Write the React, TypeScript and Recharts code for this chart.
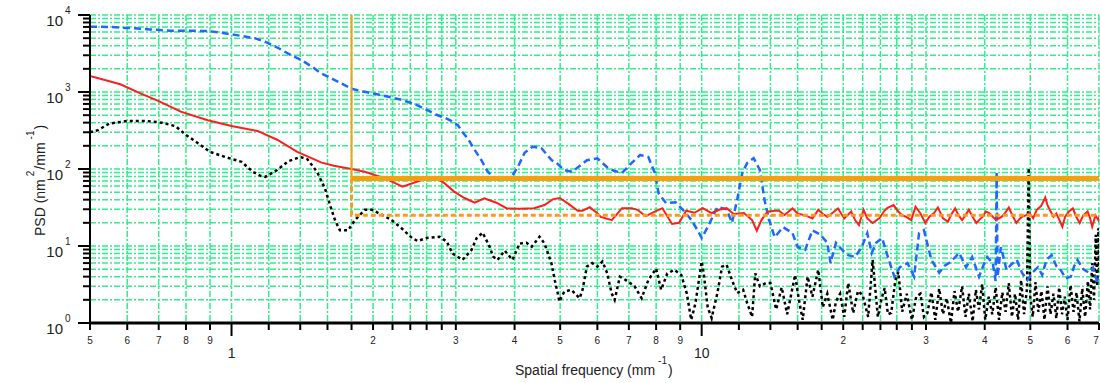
import React from 'react';
import { LineChart, Line, XAxis, YAxis, CartesianGrid } from 'recharts';

// ---------- data ----------
const blueFreq = [0.5,0.55,0.6,0.67,0.74,0.8,0.89,0.95,1.0,1.06,1.12,1.19,1.26,1.32,1.41,1.48,1.55,1.65,1.74,1.8,1.9,2.04,2.17,2.3,2.41,2.5,2.61,2.72,2.85,2.94,3.03,3.1,3.18,3.29,3.4,3.49,3.58,3.68,3.8,3.94,4.06,4.2,4.37,4.56,4.7,4.8,4.91,5.1,5.3,5.45,5.7,6.0,6.15,6.3,6.5,6.77,7.1,7.4,7.7,7.95,8.1,8.4,8.8,9.1,9.5,9.8,10.0,10.3,10.8,11.3,11.6,11.9,12.2,12.5,12.9,13.3,13.6,13.9,14.3,14.9,15.6,16.0,16.6,17.2,17.9,18.5,18.8,19.3,19.9,20.5,21.2,21.9,22.5,23.0,23.5,24.2,25.0,25.7,26.4,27.4,28.3,29.0,29.7,30.8,31.5,32,32.8,33.6,34.5,35.3,36.5,37.6,38.9,39.7,40.5,41.6,42.2,42.4,42.6,43.3,44.5,45.6,46.8,48,49.3,50.5,51.9,53,54.1,55.5,56.8,58,59.5,61,62,63,64.8,66.6,68,69.5,70];
const blueVals = [7050,7000,6800,6500,6260,6250,6200,5900,5600,5300,5000,4380,3700,3150,2580,2150,1750,1450,1230,1100,1020,935,860,790,720,660,580,510,460,420,370,300,250,177,130,97,80,72,74,79,105,162,195,187,150,130,120,97,92,105,130,138,120,105,95,89,120,152,143,89,48,36,37,30,22,16,12.7,17.6,32,30,20,40,89,120,138,97,40,22,13,17.6,14.7,9.7,8.9,16,14,11,6,11,8.9,7.6,7.2,9.7,14.7,8.1,11,12.7,6.6,4.0,5.3,6,4,14.7,16,6.6,5.3,4.5,5.5,6,7,8.1,5.3,7.2,4,5.5,7.2,6,3.5,89,4,9.7,4.9,5.8,6.6,4.5,3.6,4.5,5.3,4.2,6.6,7.6,5.5,4.9,3.8,4,5.5,6.6,5,4.5,5.2,3.3,3.8];

const redFreq = [0.5,0.58,0.64,0.7,0.78,0.89,1.0,1.14,1.16,1.25,1.38,1.55,1.65,1.8,1.92,2.12,2.31,2.54,2.7,2.84,2.98,3.13,3.29,3.45,3.66,3.85,4.1,4.4,4.63,4.82,4.99,5.19,5.45,5.58,5.78,5.98,6.1,6.44,6.77,7.1,7.3,7.6,7.95,8.25,8.65,8.95,9.27,9.65,10.05,10.5,10.9,11.3,11.7,12.3,12.8,13.1,13.4,13.8,14.3,14.6,15.0,15.6,16.0,16.6,17.2,17.7,18.1,18.5,19.0,19.5,20.1,20.8,21.2,21.6,22.1,22.5,23.1,23.9,24.4,24.8,25.6,26.2,26.7,27.2,27.9,28.5,29.2,29.9,30.5,31.2,31.8,32.6,33.4,34.0,34.6,35.2,35.8,36.4,37.0,37.7,38.4,39.0,39.6,40.2,40.9,41.6,42.3,43.5,44.2,45.0,45.8,46.7,47.3,48.0,48.9,49.8,50.7,51.6,52.7,53.8,54.4,55.0,56.0,56.8,57.6,58.5,59.3,60.4,61.6,62.6,63.7,64.8,66.2,67.0,67.7,68.8,69.8,70];
const redVals = [1614,1260,960,760,555,430,362,310,295,240,167,122,110,100,92,75.7,59,72,79,65,50.5,42,36.5,41.6,36.5,30.8,30.5,31,34,40.3,42,35.8,28.7,28.7,32,27,23.9,21.7,31,31,29.5,24.5,27.9,31,19.3,20,28.7,27,31,26.8,29.5,31,26,26.8,21.7,15.8,21.7,27.9,28.7,28.7,25.3,30.8,26.4,25,22.8,29.5,26,24,27,30.8,22.8,28,21.7,18.7,29.5,22.8,19.9,23,28,31,34,28,25,24,21.7,32.4,26.4,19.9,24,26.8,31.7,22.8,20.7,26,30.8,25,21.7,25,29.5,24,19.9,22,24,28,26.8,24,21.7,24,27,31.7,25,19.9,22,24,25,26.8,23,29.5,33,42.7,34,29.5,24,26.4,22,17.8,24,28,30.8,24,19.9,25,28,23,17.8,25,21.7,24];

const blackFreq = [0.5,0.52,0.55,0.6,0.66,0.71,0.76,0.8,0.85,0.9,0.97,1.05,1.11,1.15,1.18,1.25,1.32,1.4,1.45,1.52,1.58,1.62,1.66,1.7,1.77,1.83,1.92,1.99,2.1,2.19,2.3,2.42,2.49,2.6,2.77,2.87,2.95,3.1,3.24,3.32,3.42,3.54,3.6,3.68,3.81,3.96,4.1,4.24,4.35,4.52,4.63,4.79,4.87,4.94,4.98,5.1,5.28,5.5,5.58,5.7,5.85,6.0,6.15,6.3,6.43,6.53,6.7,6.9,7.2,7.45,7.7,8.0,8.2,8.45,8.75,9.05,9.3,9.5,9.7,10.0,10.1,10.3,10.5,10.8,11.05,11.3,11.6,11.9,12.25,12.5,12.8,13.0,13.3,13.7,14.0,14.4,14.8,15.2,15.8,16.1,16.4,16.8,17.2,17.7,18.1,18.5,19.0,19.3,19.7,20.1,20.5,21.0,21.5,22.0,22.6,23.1,23.7,24.1,24.5,24.9,25.3,25.8,26.2,26.7,27.3,28.0,28.6,29.2,29.7,30.2,30.8,31.4,32.0,32.6,33.2,33.9,34.5,35.1,35.8,36.4,37.0,37.7,38.3,38.9,39.5,40.1,40.8,41.5,42.2,42.9,43.6,44.3,45.0,45.7,46.4,47.1,47.8,48.5,49.2,49.6,50.0,50.6,51.3,52.0,52.8,53.6,54.4,55.2,56.0,56.8,57.6,58.4,59.2,60.0,60.9,61.8,62.7,63.6,64.5,65.4,66.3,67.0,67.7,68.3,68.9,69.4,69.8,70];
const blackVals = [300,320,390,420,420,400,360,277,215,167,143,124,92,82,79,97,126,143,134,92,56,34,21.7,16,16,21.7,29.5,29.5,25,21.7,17,12.7,11.6,12.7,13.2,11.4,8,6.6,8.9,12.6,14.9,9.8,7.3,6.6,8.7,6.6,10.8,11,9.8,13.2,10.8,6,3.6,2.45,1.9,2.55,2.7,2.1,2.7,5.4,6,5.4,6.3,4.4,2.45,2,4,3.6,3,2.1,3.6,5.1,2.7,4.4,4.9,4.2,2.4,1.1,1.8,6.3,4.4,1.6,1.16,2.45,5.4,5.7,3.6,2.45,2.7,1.8,1.2,4.4,3,3.3,3.3,1.5,2.9,1.3,4.2,2,1.1,4,2.2,4.9,1.6,2.4,1.1,1.9,2.4,1.2,3.3,1.35,2.6,2.3,1.2,6.6,1.2,2,2.85,1.3,1.35,3.5,4.6,1.4,2.4,1.1,2.2,2.4,1.2,1.35,2.5,1.1,2.8,1.3,2.1,1.0,2.6,1.4,3.0,1.2,2.4,1.05,2.7,1.5,3.2,1.1,2.2,1.3,2.9,1.1,2.5,1.4,3.3,1.2,2.4,1.1,3.6,1.3,2.8,103,2.2,1.2,3.4,1.4,2.6,1.1,3,1.3,2.4,1.15,2.9,1.3,2.2,1.1,3.1,1.4,2.5,1.05,2.8,1.2,3.5,1.5,6,2,14,3,17,5];

const cutoffFreq = 1.8;
const thresholdHigh = 75;
const thresholdLow = 25;
const freqMin = 0.5;
const freqMax = 70;
const psdMin = 1;
const psdMax = 10000;

const xTicks = [0.5,0.6,0.7,0.8,0.9,1,1.2,1.4,1.6,1.8,2,2.2,2.4,2.6,2.8,3,4,5,6,7,8,9,10,12,14,16,18,20,22,24,26,28,30,40,50,60,70];
const xTickLabels = ['5','6','7','8','9','1','','','','','2','','','','','3','4','5','6','7','8','9','10','','','','','2','','','','','3','4','5','6','7'];
const xMajor = [1, 10];
const yTicks = [1,2,3,4,5,6,7,8,9,10,20,30,40,50,60,70,80,90,100,200,300,400,500,600,700,800,900,1000,2000,3000,4000,5000,6000,7000,8000,9000,10000];
const yMajor = [1, 10, 100, 1000, 10000];
const yMajorExp = ['0', '1', '2', '3', '4'];

// ---------- rows ----------
const rows = (fs: number[], vs: number[]) => fs.map((f, i) => ({ f, v: vs[i] }));
const blueData = rows(blueFreq, blueVals);
const redData = rows(redFreq, redVals);
const blackData = rows(blackFreq, blackVals);
const orangeVert = [{ f: cutoffFreq, v: psdMax }, { f: cutoffFreq, v: thresholdHigh }];
const orangeHigh = [{ f: cutoffFreq, v: thresholdHigh }, { f: freqMax, v: thresholdHigh }];
const orangeLow = [{ f: cutoffFreq, v: thresholdHigh }, { f: cutoffFreq, v: thresholdLow }, { f: freqMax, v: thresholdLow }];

const FONT = '"Liberation Sans", Arial, sans-serif';
const GRID = '#2ef08c';
const ORANGE = '#f5a012';

const XTick = (props: any) => {
  const { x, y, payload } = props;
  const val = payload.value;
  const idx = xTicks.indexOf(val);
  const label = idx >= 0 ? xTickLabels[idx] : '';
  const major = xMajor.includes(val);
  const last = val === freqMax;
  return (
    <g>
      <line x1={x} x2={x} y1={y} y2={y + (major ? 13 : 7)} stroke="#000" strokeWidth={2} />
      {label ? (
        <text x={last ? x - 3 : x} y={y + (major ? 34.5 : 20.5)} textAnchor="middle" fontSize={major ? 14 : 10} fill="#222" fontFamily={FONT}>
          {label}
        </text>
      ) : null}
    </g>
  );
};

const YTick = (props: any) => {
  const { x, y, payload } = props;
  const val = payload.value;
  const mi = yMajor.indexOf(val);
  const major = mi >= 0;
  return (
    <g>
      <line x1={x} x2={x - (major ? 12 : 7)} y1={y} y2={y} stroke="#000" strokeWidth={2} />
      {major ? (
        <g fontFamily={FONT} fill="#222">
          <text x={x - 27} y={y + 11} textAnchor="end" fontSize={15}>10</text>
          <text x={x - 25} y={y - 1} textAnchor="start" fontSize={10}>{yMajorExp[mi]}</text>
        </g>
      ) : null}
    </g>
  );
};

export default function App() {
  return (
    <div style={{ position: 'absolute', left: 0, top: 0, width: 1100, height: 383, background: '#fff' }}>
      <LineChart width={1100} height={383} margin={{ top: 15, right: 1, bottom: 0, left: 0 }}>
        <CartesianGrid stroke={GRID} strokeWidth={1.5} strokeDasharray="6 2 2 2" />
        <XAxis
          dataKey="f"
          type="number"
          scale="log"
          domain={[freqMin, freqMax]}
          ticks={xTicks}
          interval={0}
          allowDataOverflow
          height={60}
          tickSize={0}
          tickMargin={0}
          tick={<XTick />}
          tickLine={false}
          axisLine={{ stroke: '#000', strokeWidth: 3 }}
        />
        <YAxis
          dataKey="v"
          type="number"
          scale="log"
          domain={[psdMin, psdMax]}
          ticks={yTicks}
          interval={0}
          allowDataOverflow
          width={90}
          tickSize={0}
          tickMargin={0}
          tick={<YTick />}
          tickLine={false}
          axisLine={{ stroke: '#000', strokeWidth: 2 }}
        />
        <Line data={blackData} dataKey="v" stroke="#000" strokeWidth={2.5} strokeDasharray="3 3" dot={false} isAnimationActive={false} type="linear" />
        <Line data={blueData} dataKey="v" stroke="#2266ff" strokeWidth={2.5} strokeDasharray="7 4" dot={false} isAnimationActive={false} type="linear" />
        <Line data={redData} dataKey="v" stroke="#ff1e1e" strokeWidth={2} dot={false} isAnimationActive={false} type="linear" />
        <Line data={orangeVert} dataKey="v" stroke={ORANGE} strokeWidth={2} dot={false} isAnimationActive={false} type="linear" />
        <Line data={orangeLow} dataKey="v" stroke={ORANGE} strokeWidth={3} strokeDasharray="5 3" dot={false} isAnimationActive={false} type="linear" />
        <Line data={orangeHigh} dataKey="v" stroke={ORANGE} strokeWidth={5} dot={false} isAnimationActive={false} type="linear" />
      </LineChart>
      <svg width={1100} height={383} style={{ position: 'absolute', left: 0, top: 0, pointerEvents: 'none' }}>
        <text x={515} y={375} fontSize={14} fill="#222" fontFamily={FONT}>
          Spatial frequency (mm
          <tspan dx={3} dy={-11} fontSize={10}>-1</tspan>
          <tspan dx={1} dy={11}>)</tspan>
        </text>
        <text transform="translate(45,236) rotate(-90)" fontSize={14} fill="#222" fontFamily={FONT}>
          PSD (nm
          <tspan dx={3} dy={-11} fontSize={10}>2</tspan>
          <tspan dx={1} dy={11}>/mm</tspan>
          <tspan dx={3} dy={-11} fontSize={10}>-1</tspan>
          <tspan dx={1} dy={11}>)</tspan>
        </text>
      </svg>
    </div>
  );
}
